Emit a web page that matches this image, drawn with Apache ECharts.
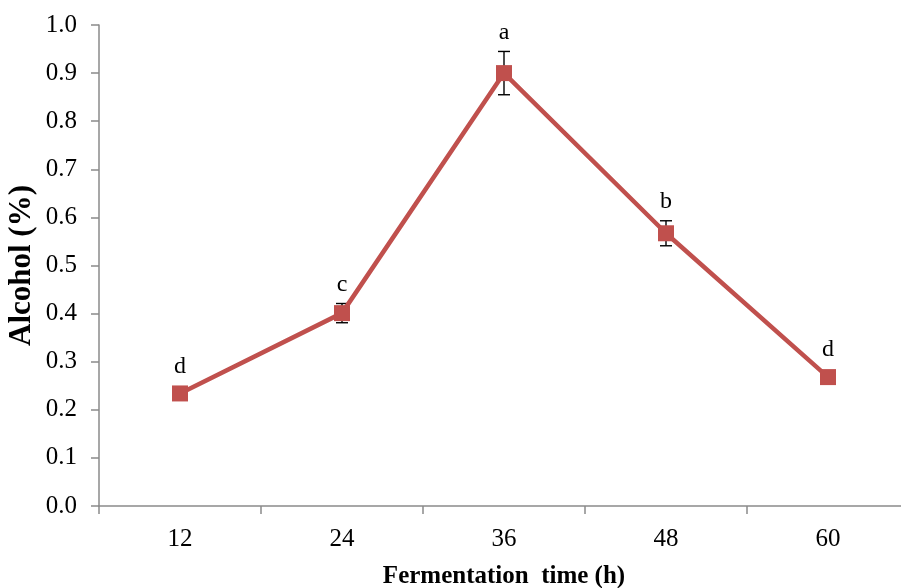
<!DOCTYPE html>
<html>
<head>
<meta charset="utf-8">
<script src="https://cdn.jsdelivr.net/npm/echarts@6/dist/echarts.min.js"></script>
<style>
html,body{margin:0;padding:0;background:#fff;}
#chart{width:901px;height:588px;}
</style>
</head>
<body>
<div id="chart"></div>
<script>
var categories = ['12', '24', '36', '48', '60'];
var alcohol = [0.234, 0.401, 0.900, 0.567, 0.268];
var errors = [0.004, 0.020, 0.045, 0.026, 0.004];
var letters = ['d', 'c', 'a', 'b', 'd'];
var yTicks = [0, 0.1, 0.2, 0.3, 0.4, 0.5, 0.6, 0.7, 0.8, 0.9, 1.0];

var FONT = '"Liberation Serif", "Times New Roman", serif';
var RED = '#c0504d';
var AXIS = '#8a8a8a';

var errData = categories.map(function (c, i) { return [i, alcohol[i], errors[i]]; });

var chart = echarts.init(document.getElementById('chart'), null, {renderer: 'canvas'});
chart.setOption({
  animation: false,
  backgroundColor: '#fff',
  grid: {left: 99, top: 25, bottom: 82, width: 810, containLabel: false, outerBoundsMode: 'none'},
  xAxis: {
    type: 'category',
    data: categories,
    boundaryGap: true,
    name: 'Fermentation  time (h)',
    nameLocation: 'middle',
    nameGap: 58,
    nameMoveOverlap: false,
    nameTextStyle: {fontFamily: FONT, fontSize: 25, fontWeight: 'bold', color: '#000'},
    axisLine: {lineStyle: {color: AXIS, width: 1.5}},
    axisTick: {show: true, length: 8, inside: false, alignWithLabel: false, lineStyle: {color: AXIS, width: 1.5}},
    axisLabel: {fontFamily: FONT, fontSize: 25, color: '#000', margin: 21},
    splitLine: {show: false}
  },
  yAxis: {
    type: 'value',
    min: 0,
    max: 1,
    interval: 0.1,
    name: 'Alcohol (%)',
    nameLocation: 'middle',
    nameGap: 62,
    nameMoveOverlap: false,
    nameTextStyle: {fontFamily: FONT, fontSize: 31, fontWeight: 'bold', color: '#000'},
    axisLine: {show: true, lineStyle: {color: AXIS, width: 1.5}},
    axisTick: {show: true, length: 8, lineStyle: {color: AXIS, width: 1.5}},
    axisLabel: {
      fontFamily: FONT, fontSize: 25, color: '#000', margin: 22,
      formatter: function (v) {
        var idx = yTicks.findIndex(function (t) { return Math.abs(t - v) < 1e-9; });
        return idx >= 0 ? yTicks[idx].toFixed(1) : '';
      }
    },
    splitLine: {show: false}
  },
  series: [
    {
      type: 'custom',
      z: 1,
      data: errData,
      renderItem: function (params, api) {
        var x = api.value(0), v = api.value(1), e = api.value(2);
        var top = api.coord([x, v + e]);
        var bot = api.coord([x, v - e]);
        var cap = 6;
        var st = {stroke: '#000', lineWidth: 1.4};
        return {
          type: 'group',
          children: [
            {type: 'line', shape: {x1: top[0], y1: top[1], x2: bot[0], y2: bot[1]}, style: st},
            {type: 'line', shape: {x1: top[0] - cap, y1: top[1], x2: top[0] + cap, y2: top[1]}, style: st},
            {type: 'line', shape: {x1: bot[0] - cap, y1: bot[1], x2: bot[0] + cap, y2: bot[1]}, style: st}
          ]
        };
      }
    },
    {
      type: 'line',
      z: 3,
      data: alcohol,
      symbol: 'rect',
      symbolSize: 16,
      lineStyle: {color: RED, width: 4.5},
      itemStyle: {color: RED},
      label: {show: false}
    },
    {
      type: 'custom',
      z: 4,
      data: errData,
      renderItem: function (params, api) {
        var x = api.value(0), v = api.value(1), e = api.value(2);
        var top = api.coord([x, v + e]);
        var mk = api.coord([x, v]);
        var y = Math.min(top[1], mk[1] - 8) - 7;
        return {
          type: 'text',
          style: {
            x: top[0], y: y,
            text: letters[params.dataIndex],
            font: '24px ' + FONT,
            fill: '#000',
            align: 'center',
            verticalAlign: 'bottom'
          }
        };
      }
    }
  ]
});
</script>
</body>
</html>
